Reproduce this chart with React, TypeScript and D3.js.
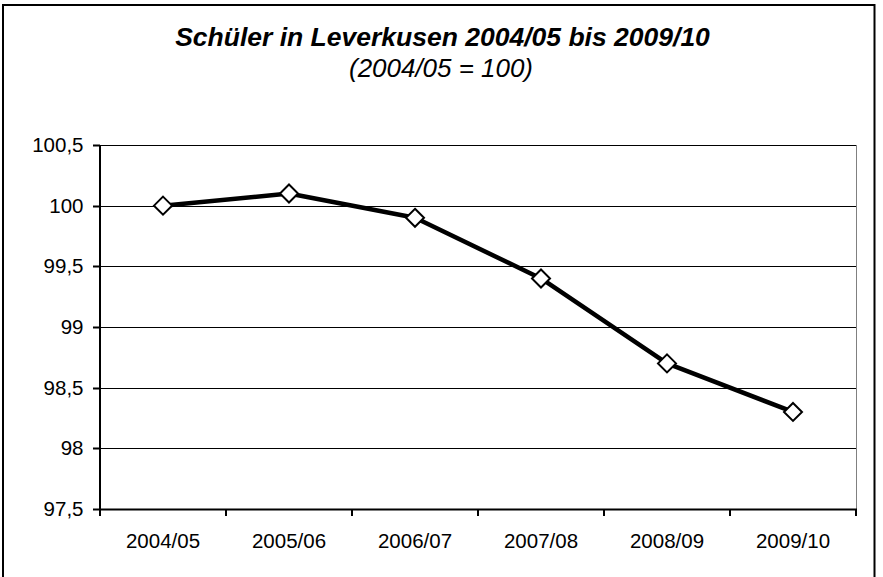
import React from "react";
import * as d3 from "d3";

const categories = ["2004/05", "2005/06", "2006/07", "2007/08", "2008/09", "2009/10"];
const values = [100, 100.1, 99.9, 99.4, 98.7, 98.3];
const yTicks = [97.5, 98, 98.5, 99, 99.5, 100, 100.5];
const yTickLabels = ["97,5", "98", "98,5", "99", "99,5", "100", "100,5"];
const title = "Schüler in Leverkusen 2004/05 bis 2009/10";
const subtitle = "(2004/05 = 100)";

const W = 883;
const H = 577;
const plot = { left: 100, right: 856, top: 145, bottom: 509 };
const FONT = "'Liberation Sans', Arial, sans-serif";

export default function App() {
  const x = d3
    .scaleBand<string>()
    .domain(categories)
    .range([plot.left, plot.right])
    .paddingInner(0)
    .paddingOuter(0);
  const y = d3.scaleLinear().domain([97.5, 100.5]).range([plot.bottom, plot.top]);

  const cx = (c: string) => (x(c) as number) + x.bandwidth() / 2;
  const line = d3
    .line<number>()
    .x((_, i) => cx(categories[i]))
    .y((d) => y(d));

  const boundaries = d3.range(categories.length + 1).map((i) => plot.left + i * x.bandwidth());
  const r = 9;

  return (
    <svg
      width={W}
      height={H}
      style={{ position: "fixed", left: 0, top: 0, background: "#fff" }}
      fontFamily={FONT}
    >
      <rect x={0} y={0} width={W} height={H} fill="#fff" />
      {/* outer frame */}
      <rect x={3} y={5} width={871.5} height={H + 20} fill="none" stroke="#000" strokeWidth={2} />

      {/* title */}
      <text x={442.5} y={46} textAnchor="middle" fontSize={26.5} fontWeight="bold" fontStyle="italic">
        {title}
      </text>
      <text x={441} y={77} textAnchor="middle" fontSize={25.5} fontStyle="italic" textLength={184} lengthAdjust="spacingAndGlyphs">
        {subtitle}
      </text>

      {/* gridlines */}
      {yTicks.slice(1).map((t) => (
        <line
          key={"g" + t}
          x1={plot.left}
          x2={plot.right}
          y1={Math.round(y(t)) + 0.5}
          y2={Math.round(y(t)) + 0.5}
          stroke="#000"
          strokeWidth={1}
        />
      ))}
      {/* right border of plot */}
      <line x1={plot.right + 0.5} x2={plot.right + 0.5} y1={plot.top} y2={plot.bottom} stroke="#808080" strokeWidth={1} />

      {/* y axis */}
      <line x1={100} x2={100} y1={plot.top} y2={plot.bottom + 1} stroke="#000" strokeWidth={2} />
      {yTicks.map((t, i) => (
        <g key={"y" + t}>
          <line x1={93} x2={100} y1={Math.round(y(t)) + 0.5} y2={Math.round(y(t)) + 0.5} stroke="#000" strokeWidth={2} />
          <text x={83.5} y={y(t) + 7} textAnchor="end" fontSize={20.5}>
            {yTickLabels[i]}
          </text>
        </g>
      ))}

      {/* x axis */}
      <line x1={plot.left - 1} x2={plot.right + 1} y1={plot.bottom + 0.5} y2={plot.bottom + 0.5} stroke="#000" strokeWidth={2} />
      {boundaries.map((b, i) => (
        <line key={"xt" + i} x1={b} x2={b} y1={plot.bottom} y2={plot.bottom + 7} stroke="#000" strokeWidth={2} />
      ))}
      {categories.map((c) => (
        <text key={"xl" + c} x={cx(c)} y={548} textAnchor="middle" fontSize={20.5}>
          {c}
        </text>
      ))}

      {/* series */}
      <path d={line(values) || ""} fill="none" stroke="#000" strokeWidth={4.5} strokeLinejoin="round" />
      {values.map((v, i) => {
        const px = cx(categories[i]);
        const py = y(v);
        return (
          <path
            key={"m" + i}
            d={`M${px},${py - r}L${px + r},${py}L${px},${py + r}L${px - r},${py}Z`}
            fill="#fff"
            stroke="#000"
            strokeWidth={2}
          />
        );
      })}
    </svg>
  );
}
